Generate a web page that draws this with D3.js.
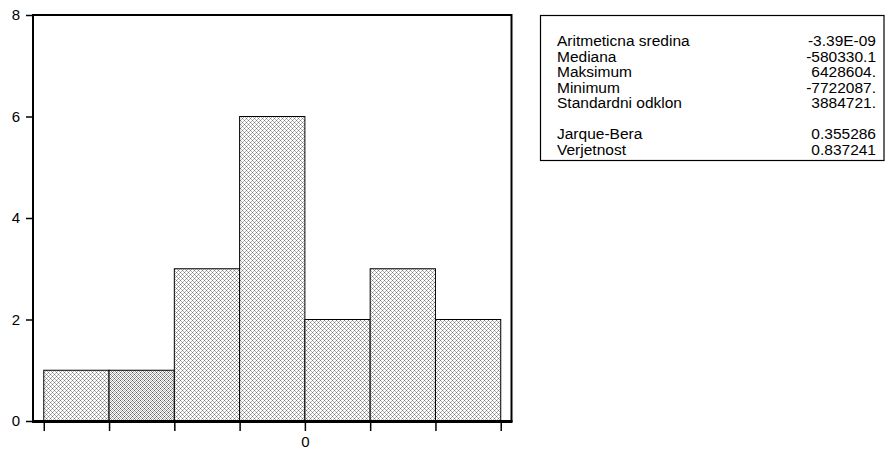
<!DOCTYPE html>
<html>
<head>
<meta charset="utf-8">
<script src="https://cdn.jsdelivr.net/npm/d3@7"></script>
<style>
  body { margin: 0; background: #fff; }
  svg { font-family: "Liberation Sans", Arial, sans-serif; }
</style>
</head>
<body>
<svg id="chart" width="891" height="450"></svg>
<script>
// histogram bins (edges) and counts
const binEdges = [-8e6, -6e6, -4e6, -2e6, 0, 2e6, 4e6, 6e6];
const counts = [1, 1, 3, 6, 2, 3, 2];
const yTicks = [0, 2, 4, 6, 8];
const xLabels = [{ v: 0, text: "0" }];

const statNames = ["Aritmeticna sredina", "Mediana", "Maksimum", "Minimum", "Standardni odklon", "", "Jarque-Bera", "Verjetnost"];
const statValues = ["-3.39E-09", "-580330.1", "6428604.", "-7722087.", "3884721.", "", "0.355286", "0.837241"];

const bins = counts.map((c, i) => ({ x0: binEdges[i], x1: binEdges[i + 1], n: c }));

const svg = d3.select("#chart");

const plotL = 33, plotR = 511.5, plotT = 15, plotB = 421;

const x = d3.scaleLinear()
    .domain([-8.33e6, 6.33e6])
    .range([plotL, plotR]);

const y = d3.scaleLinear()
    .domain([0, 8])
    .range([plotB, plotT]);

// fill patterns: small diamond lattice, one denser variant
const defs = svg.append("defs");
function makePattern(id, dark) {
    const p = defs.append("pattern")
        .attr("id", id)
        .attr("patternUnits", "userSpaceOnUse")
        .attr("width", 4)
        .attr("height", 4);
    const c1 = dark ? "#606060" : "#7a7a7a";
    const c2 = dark ? "#999" : "#b4b4b4";
    const px = (x0, y0, c) => p.append("rect").attr("x", x0).attr("y", y0).attr("width", 1).attr("height", 1).attr("fill", c);
    p.append("rect").attr("width", 4).attr("height", 4).attr("fill", "#fff");
    px(0, 0, c1);
    px(2, 2, c1);
    px(1, 1, c2);
    px(3, 1, c2);
    px(1, 3, c2);
    px(3, 3, c2);
    if (dark) {
        px(2, 0, "#c4c4c4");
        px(0, 2, "#c4c4c4");
    }
}
makePattern("patLight", false);
makePattern("patDark", true);

// bars
svg.append("g")
    .selectAll("rect")
    .data(bins)
    .join("rect")
        .attr("x", d => x(d.x0))
        .attr("y", d => y(d.n))
        .attr("width", d => x(d.x1) - x(d.x0))
        .attr("height", d => y(0) - y(d.n))
        .attr("fill", (d, i) => i === 1 ? "url(#patDark)" : "url(#patLight)")
        .attr("stroke", "#000")
        .attr("stroke-width", 1);

// frame
svg.append("rect")
    .attr("x", plotL)
    .attr("y", plotT)
    .attr("width", plotR - plotL)
    .attr("height", plotB - plotT)
    .attr("fill", "none")
    .attr("stroke", "#000")
    .attr("stroke-width", 2);
svg.append("line")
    .attr("x1", plotL - 1).attr("x2", plotR + 1)
    .attr("y1", plotB + 0.5).attr("y2", plotB + 0.5)
    .attr("stroke", "#000").attr("stroke-width", 3);

// y axis
const yAxis = svg.append("g")
    .attr("transform", `translate(${plotL},0)`)
    .call(d3.axisLeft(y).tickValues(yTicks).tickSize(7).tickPadding(6).tickFormat(d3.format("d")));
yAxis.select(".domain").remove();
yAxis.selectAll("line").attr("stroke-width", 1.5);
yAxis.selectAll("text").attr("font-size", 15).attr("font-family", "Liberation Sans, Arial, sans-serif").attr("fill", "#000");

// x axis
const xAxis = svg.append("g")
    .attr("transform", `translate(0,${plotB})`)
    .call(d3.axisBottom(x).tickValues(binEdges).tickSize(10).tickPadding(5)
        .tickFormat(d => { const l = xLabels.find(e => e.v === d); return l ? l.text : ""; }));
xAxis.select(".domain").remove();
xAxis.selectAll("line").attr("stroke-width", 1.5);
xAxis.selectAll("text").attr("font-size", 15).attr("font-family", "Liberation Sans, Arial, sans-serif").attr("fill", "#000");

// stats box
svg.append("rect")
    .attr("x", 540.5).attr("y", 15.5)
    .attr("width", 343.5).attr("height", 145)
    .attr("fill", "none").attr("stroke", "#000").attr("stroke-width", 1.2);

const rowY = d3.scaleLinear().domain([0, 7]).range([46, 155]);
const stats = svg.append("g").attr("font-size", 15.5).attr("fill", "#000");
stats.selectAll("text.name")
    .data(statNames)
    .join("text")
        .attr("class", "name")
        .attr("x", 557)
        .attr("y", (d, i) => rowY(i))
        .text(d => d);
stats.selectAll("text.val")
    .data(statValues)
    .join("text")
        .attr("class", "val")
        .attr("x", 876)
        .attr("y", (d, i) => rowY(i))
        .attr("text-anchor", "end")
        .text(d => d);
</script>
</body>
</html>
